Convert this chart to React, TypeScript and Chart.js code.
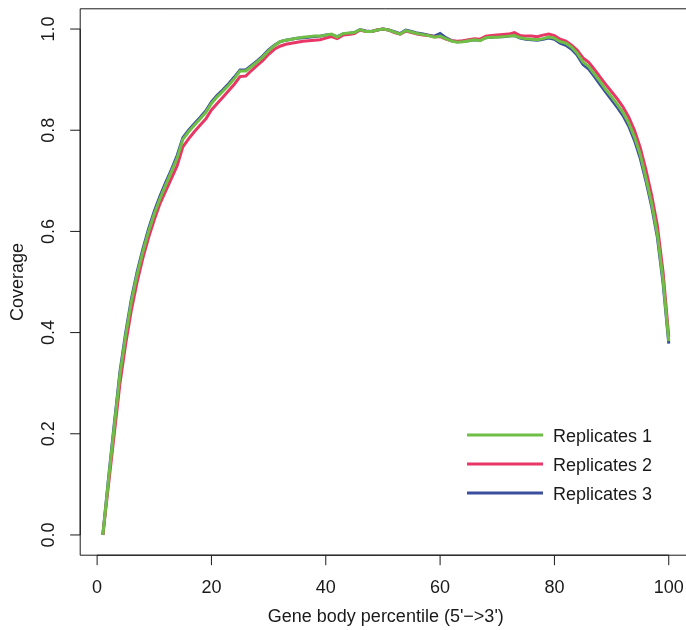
import React, { useEffect, useRef } from "react";
import { Chart, registerables } from "chart.js";

Chart.register(...registerables);

const percentiles = [
  1, 2, 3, 4, 5, 6, 7, 8, 9, 10, 11, 12, 13, 14, 15, 16, 17, 18, 19, 20,
  21, 22, 23, 24, 25, 26, 27, 28, 29, 30, 31, 32, 33, 34, 35, 36, 37, 38, 39, 40,
  41, 42, 43, 44, 45, 46, 47, 48, 49, 50, 51, 52, 53, 54, 55, 56, 57, 58, 59, 60,
  61, 62, 63, 64, 65, 66, 67, 68, 69, 70, 71, 72, 73, 74, 75, 76, 77, 78, 79, 80,
  81, 82, 83, 84, 85, 86, 87, 88, 89, 90, 91, 92, 93, 94, 95, 96, 97, 98, 99, 100,
];

const replicate1 = [
  0.000, 0.110, 0.215, 0.318, 0.395, 0.462, 0.515, 0.560, 0.600, 0.635,
  0.665, 0.692, 0.718, 0.745, 0.782, 0.797, 0.810, 0.822, 0.835, 0.853,
  0.866, 0.877, 0.889, 0.902, 0.917, 0.917, 0.926, 0.935, 0.945, 0.957,
  0.967, 0.975, 0.978, 0.980, 0.982, 0.984, 0.985, 0.986, 0.986, 0.988,
  0.990, 0.984, 0.991, 0.992, 0.993, 0.999, 0.995, 0.995, 0.998, 1.000,
  0.998, 0.994, 0.990, 0.997, 0.994, 0.991, 0.989, 0.987, 0.984, 0.986,
  0.981, 0.976, 0.974, 0.975, 0.977, 0.979, 0.977, 0.983, 0.984, 0.984,
  0.985, 0.986, 0.987, 0.983, 0.981, 0.980, 0.979, 0.981, 0.984, 0.982,
  0.975, 0.972, 0.964, 0.952, 0.935, 0.926, 0.911, 0.896, 0.880, 0.866,
  0.851, 0.835, 0.814, 0.787, 0.752, 0.706, 0.656, 0.595, 0.504, 0.383,
];

const replicate2 = [
  0.000, 0.100, 0.200, 0.300, 0.378, 0.445, 0.500, 0.547, 0.588, 0.623,
  0.655, 0.680, 0.705, 0.730, 0.767, 0.783, 0.797, 0.810, 0.822, 0.840,
  0.853, 0.865, 0.878, 0.891, 0.906, 0.907, 0.918, 0.928, 0.938, 0.950,
  0.960, 0.966, 0.970, 0.972, 0.974, 0.976, 0.977, 0.978, 0.979, 0.982,
  0.985, 0.981, 0.988, 0.989, 0.991, 0.998, 0.995, 0.995, 0.998, 1.000,
  0.998, 0.993, 0.990, 0.996, 0.993, 0.990, 0.988, 0.987, 0.985, 0.985,
  0.980, 0.977, 0.976, 0.977, 0.979, 0.981, 0.980, 0.986, 0.987, 0.988,
  0.989, 0.990, 0.993, 0.987, 0.986, 0.986, 0.985, 0.988, 0.990, 0.987,
  0.980, 0.976, 0.968, 0.958, 0.943, 0.934, 0.920, 0.905, 0.890, 0.876,
  0.862, 0.846, 0.826, 0.800, 0.766, 0.722, 0.672, 0.612, 0.520, 0.392,
];

const replicate3 = [
  0.000, 0.113, 0.220, 0.323, 0.400, 0.467, 0.520, 0.565, 0.605, 0.640,
  0.670, 0.697, 0.722, 0.750, 0.785, 0.800, 0.813, 0.825, 0.838, 0.856,
  0.869, 0.880, 0.892, 0.905, 0.919, 0.919, 0.928, 0.937, 0.947, 0.959,
  0.968, 0.975, 0.978, 0.980, 0.982, 0.983, 0.984, 0.985, 0.986, 0.988,
  0.989, 0.985, 0.990, 0.991, 0.993, 0.999, 0.996, 0.995, 0.998, 1.000,
  0.998, 0.995, 0.991, 0.998, 0.995, 0.992, 0.990, 0.988, 0.986, 0.991,
  0.983, 0.977, 0.975, 0.976, 0.977, 0.979, 0.978, 0.983, 0.984, 0.985,
  0.985, 0.986, 0.987, 0.982, 0.980, 0.979, 0.978, 0.980, 0.982, 0.980,
  0.972, 0.968, 0.960, 0.948, 0.930, 0.921, 0.906, 0.890, 0.875, 0.860,
  0.845, 0.829, 0.808, 0.780, 0.745, 0.700, 0.650, 0.589, 0.498, 0.378,
];

const seriesLabels = ["Replicates 1", "Replicates 2", "Replicates 3"];
const seriesColors = ["#6fbe45", "#e83666", "#3a4e9e"];
const xTicks = [0, 20, 40, 60, 80, 100];
const yTicks = [0, 0.2, 0.4, 0.6, 0.8, 1.0];
const xTitle = "Gene body percentile (5'\u2212>3')";
const yTitle = "Coverage";

const FONT = '18px "Liberation Sans", Arial, Helvetica, sans-serif';
const INK = "#1a1a1a";

function seg(ctx: any, x0: number, y0: number, x1: number, y1: number) {
  ctx.beginPath();
  ctx.moveTo(x0, y0);
  ctx.lineTo(x1, y1);
  ctx.stroke();
}

const rStylePlugin = {
  id: "rStyle",
  afterDraw(chart: any) {
    const { ctx, chartArea: a, scales } = chart;
    const xs = scales.x;
    const ys = scales.y;
    ctx.save();
    ctx.strokeStyle = INK;
    ctx.fillStyle = INK;
    ctx.lineWidth = 1;
    // box (its right side lies beyond the visible page, as in the reference)
    seg(ctx, a.left, a.top, a.right, a.top);
    seg(ctx, a.left, a.bottom, a.right, a.bottom);
    seg(ctx, a.left, a.top, a.left, a.bottom);
    ctx.font = FONT;

    // x axis
    seg(ctx, xs.getPixelForValue(xTicks[0]), a.bottom, xs.getPixelForValue(xTicks[xTicks.length - 1]), a.bottom);
    ctx.textAlign = "center";
    ctx.textBaseline = "alphabetic";
    xTicks.forEach((v) => {
      const px = xs.getPixelForValue(v);
      seg(ctx, px, a.bottom, px, a.bottom + 10);
      ctx.fillText(String(v), px, a.bottom + 38);
    });
    ctx.fillText(xTitle, xs.getPixelForValue(50.5), a.bottom + 67);

    // y axis
    seg(ctx, a.left, ys.getPixelForValue(yTicks[0]), a.left, ys.getPixelForValue(yTicks[yTicks.length - 1]));
    yTicks.forEach((v) => {
      const py = ys.getPixelForValue(v);
      seg(ctx, a.left - 10, py, a.left, py);
      ctx.save();
      ctx.translate(a.left - 26, py);
      ctx.rotate(-Math.PI / 2);
      ctx.textAlign = "center";
      ctx.fillText(v.toFixed(1), 0, 0);
      ctx.restore();
    });
    ctx.save();
    ctx.translate(a.left - 57, (a.top + a.bottom) / 2);
    ctx.rotate(-Math.PI / 2);
    ctx.textAlign = "center";
    ctx.fillText(yTitle, 0, 0);
    ctx.restore();

    // legend
    const lx0 = 467;
    const lx1 = 543;
    const ly0 = 435;
    const step = 29;
    ctx.textAlign = "left";
    seriesLabels.forEach((lab, i) => {
      const ly = ly0 + i * step;
      ctx.strokeStyle = seriesColors[i];
      ctx.lineWidth = 3;
      seg(ctx, lx0, ly, lx1, ly);
      ctx.fillStyle = INK;
      ctx.fillText(lab, 553, ly + 6.5);
    });
    ctx.restore();
  },
};

export default function App() {
  const ref = useRef<HTMLCanvasElement | null>(null);
  useEffect(() => {
    if (!ref.current) return;
    const series = [replicate1, replicate2, replicate3];
    const chart = new Chart(ref.current, {
      type: "line",
      data: {
        datasets: series.map((vals, i) => ({
          label: seriesLabels[i],
          data: percentiles.map((p, j) => ({ x: p, y: vals[j] })),
          borderColor: seriesColors[i],
          backgroundColor: seriesColors[i],
          borderWidth: 3,
          pointRadius: 0,
          tension: 0,
          fill: false,
        })),
      },
      options: {
        responsive: false,
        animation: false,
        devicePixelRatio: 1,
        layout: {
          autoPadding: false,
          padding: { left: 80.2, top: 8.8, right: 8.6, bottom: 74.8 },
        },
        plugins: {
          legend: { display: false },
          tooltip: { enabled: false },
          title: { display: false },
        },
        scales: {
          x: { type: "linear", min: -2.96, max: 103.96, display: false },
          y: { type: "linear", min: -0.04, max: 1.04, display: false },
        },
      },
      plugins: [rStylePlugin],
    });
    return () => chart.destroy();
  }, []);
  return (
    <div
      style={{
        position: "fixed",
        left: 0,
        top: 0,
        width: 686,
        height: 630,
        overflow: "hidden",
        background: "#fff",
      }}
    >
      <canvas ref={ref} width={700} height={630} style={{ display: "block" }} />
    </div>
  );
}
